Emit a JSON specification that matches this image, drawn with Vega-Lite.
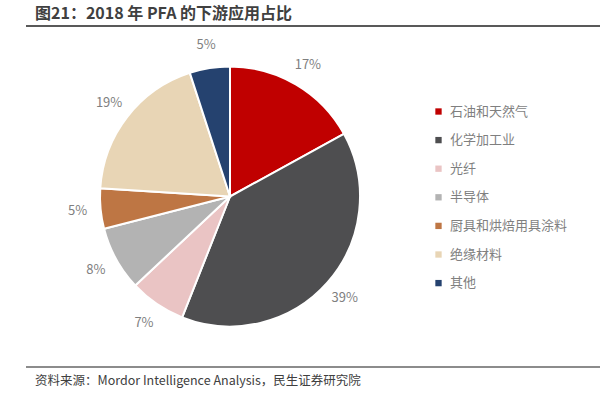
{
  "$schema": "https://vega.github.io/schema/vega-lite/v6.json",
  "padding": {"left": 26, "top": 6, "right": 0, "bottom": 0},
  "background": "white",
  "title": {"text": "图21：2018 年 PFA 的下游应用占比", "anchor": "start", "dx": 9, "fontSize": 16, "font": "Noto Sans CJK SC", "fontWeight": "bold", "color": "#404040", "offset": 3},
  "spacing": 0,
  "config": {"view": {"stroke": null}, "concat": {"spacing": 0}, "font": "Noto Sans CJK SC"},
  "vconcat": [
    {
      "data": {"values": []},
      "mark": {"type": "point", "opacity": 0},
      "encoding": {},
      "width": 574,
      "height": 2,
      "view": {"fill": "#595959", "stroke": null}
    },
    {
      "width": 408,
      "height": 339,
      "data": {"values": [
        {"name": "石油和天然气", "value": 17, "label": "17%", "order": 1},
        {"name": "化学加工业", "value": 39, "label": "39%", "order": 2},
        {"name": "光纤", "value": 7, "label": "7%", "order": 3},
        {"name": "半导体", "value": 8, "label": "8%", "order": 4},
        {"name": "厨具和烘焙用具涂料", "value": 5, "label": "5%", "order": 5},
        {"name": "绝缘材料", "value": 19, "label": "19%", "order": 6},
        {"name": "其他", "value": 5, "label": "5%", "order": 7}
      ]},
      "encoding": {
        "theta": {"field": "value", "type": "quantitative", "stack": true},
        "order": {"field": "order", "type": "quantitative"}
      },
      "layer": [
        {
          "mark": {"type": "arc", "outerRadius": 130, "stroke": "white", "strokeWidth": 2},
          "encoding": {
            "color": {
              "field": "name", "type": "nominal",
              "scale": {
                "domain": ["石油和天然气", "化学加工业", "光纤", "半导体", "厨具和烘焙用具涂料", "绝缘材料", "其他"],
                "range": ["#C00000", "#4E4E50", "#EAC4C4", "#B3B3B3", "#BE7644", "#E8D5B5", "#25426F"]
              },
              "legend": {
                "title": null,
                "orient": "none",
                "legendX": 406,
                "legendY": 80,
                "symbolType": "square",
                "symbolSize": 40,
                "symbolStrokeWidth": 0,
                "labelFontSize": 13,
                "labelColor": "#7F7F7F",
                "labelFont": "Noto Sans CJK SC",
                "rowPadding": 14.6,
                "labelOffset": 5
              }
            }
          }
        },
        {
          "mark": {"type": "text", "radius": 153, "fontSize": 13, "color": "#7F7F7F", "font": "Noto Sans CJK SC"},
          "encoding": {"text": {"field": "label", "type": "nominal"}}
        }
      ]
    },
    {
      "data": {"values": []},
      "mark": {"type": "point", "opacity": 0},
      "encoding": {},
      "width": 574,
      "height": 2,
      "view": {"fill": "#8C8C8C", "stroke": null},
      "title": {"text": "资料来源：Mordor Intelligence Analysis，民生证券研究院", "orient": "bottom", "anchor": "start", "dx": 9, "fontSize": 12.5, "fontWeight": "normal", "color": "#404040", "offset": 7, "font": "Noto Sans CJK SC"}
    }
  ]
}
